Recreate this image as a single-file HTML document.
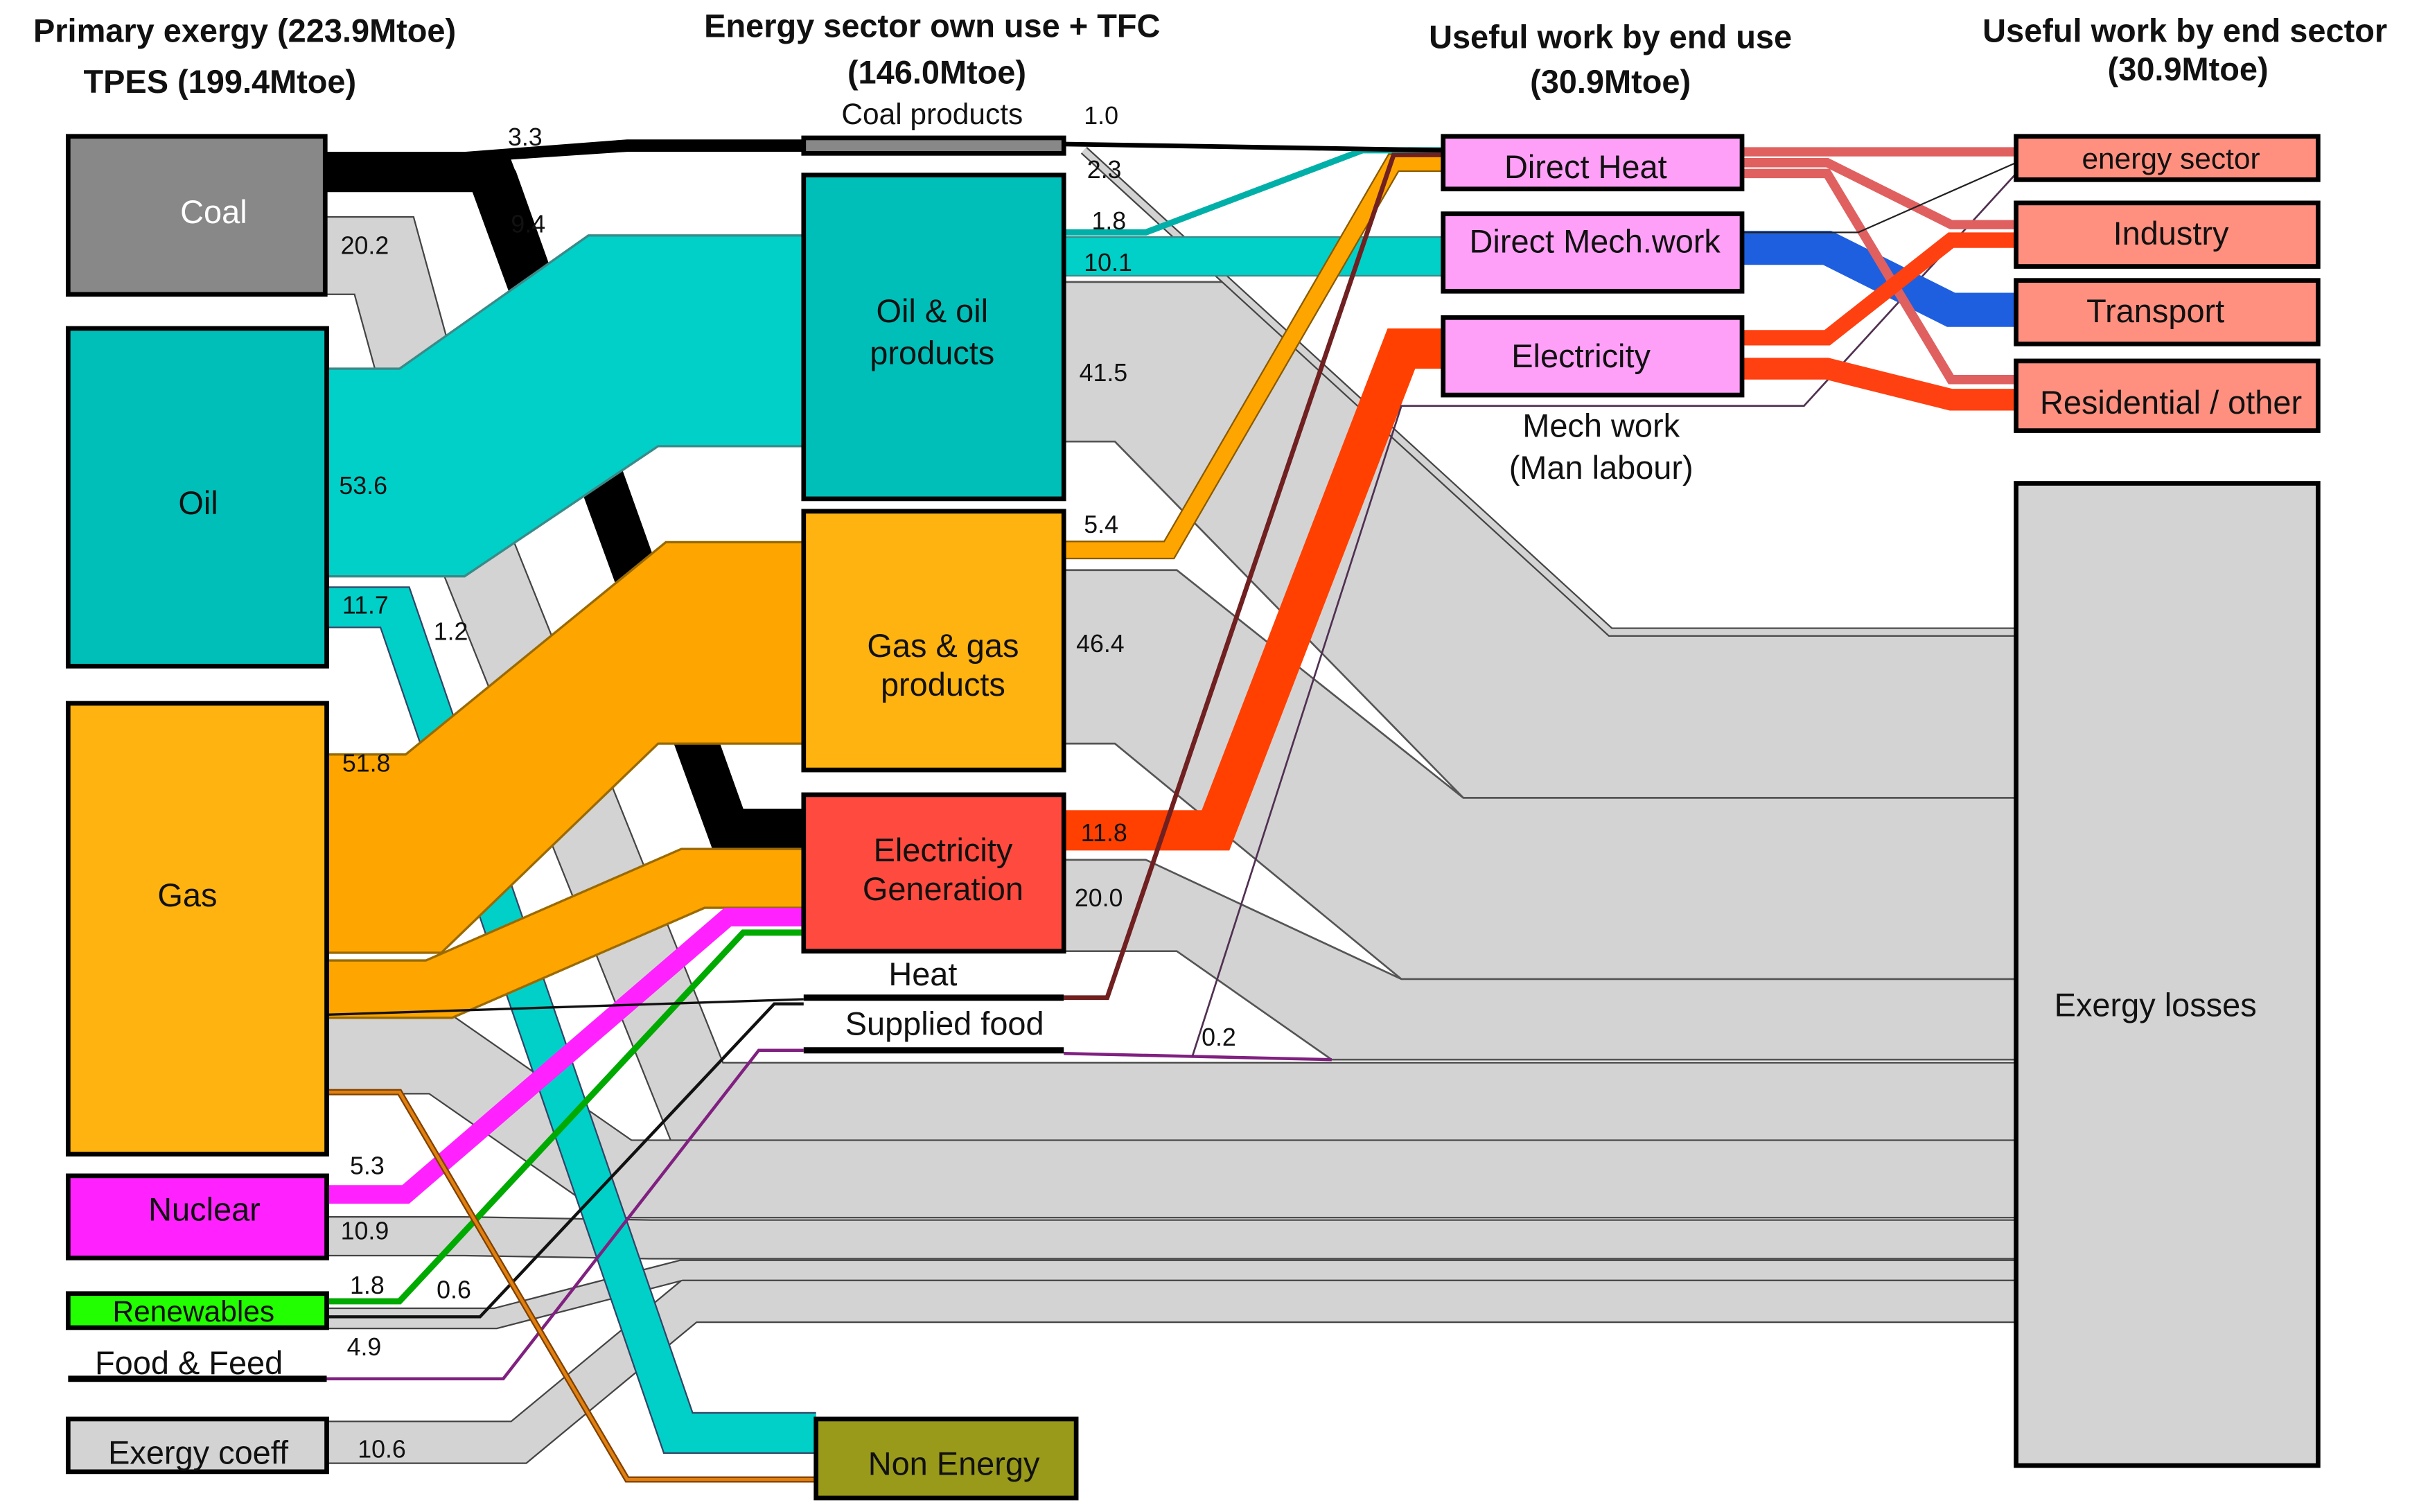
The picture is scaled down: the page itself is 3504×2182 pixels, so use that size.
<!DOCTYPE html>
<html><head><meta charset="utf-8"><style>html,body{margin:0;padding:0;background:#fff}svg{display:block}text{font-family:"Liberation Sans",Arial,sans-serif}</style></head><body>
<svg width="3504" height="2182" viewBox="0 0 1568 976" preserveAspectRatio="none" xmlns="http://www.w3.org/2000/svg">
<g fill="none" stroke-linejoin="miter">
<g stroke="#444">
<polyline points="211,165 248,165 285,300 450,711 1302,711" stroke-width="51"/>
<polyline points="211,681 285,681 400,761 1302,761" stroke-width="51"/>
<polyline points="211,798 300,798 420,800 1302,800" stroke-width="26"/>
<polyline points="211,851 320,851 440,820 1302,820" stroke-width="14"/>
<polyline points="211,931 335,931 445,840 1302,840" stroke-width="28"/>
</g>
<g stroke="#d3d3d3">
<polyline points="211,165 248,165 285,300 450,711 1302,711" stroke-width="49"/>
<polyline points="211,681 285,681 400,761 1302,761" stroke-width="49"/>
<polyline points="211,798 300,798 420,800 1302,800" stroke-width="24"/>
<polyline points="211,851 320,851 440,820 1302,820" stroke-width="12"/>
<polyline points="211,931 335,931 445,840 1302,840" stroke-width="26"/>
</g>
</g>
<g fill="#d3d3d3" stroke="#555" stroke-width="1.2">
<polygon points="687,182 790,182 1040,408 1302,408 1302,515 945,515 720,285 687,285"/>
<polygon points="687,368 760,368 945,515 1302,515 1302,632 905,632 720,480 687,480"/>
<polygon points="687,555 740,555 905,632 1302,632 1302,684 860,684 760,614 687,614"/>
</g>
<g fill="none">
<polyline points="700,97 1040,408 1302,408" stroke="#444" stroke-width="6"/>
<polyline points="700,97 1040,408 1302,408" stroke="#d3d3d3" stroke-width="4"/>
</g>
<!-- coal black -->
<polygon points="211,98 300,98 405,90 519,90 519,98 405,98 330,103 338,124 211,124" fill="#000"/>
<polygon points="300,110 333,110 480,522 519,522 519,548 460,548 300,110" fill="#000"/>
<g fill="none">
<polyline points="211,392 255,392 438,925 527,925" stroke="#346" stroke-width="27"/>
<polyline points="211,392 255,392 438,925 527,925" stroke="#00d0c8" stroke-width="25"/>
</g>
<polygon points="211,238 258,238 380,152 519,152 519,288 425,288 300,372 211,372" fill="#00d0c8" stroke="#3a8a88" stroke-width="1.5"/>
<polygon points="211,487 262,487 430,350 519,350 519,480 425,480 285,615 211,615" fill="#ffa500" stroke="#9a6a00" stroke-width="1.5"/>
<polygon points="211,620 275,620 440,548 519,548 519,586 455,586 292,657 211,657" fill="#ffa500" stroke="#9a6a00" stroke-width="1.5"/>
<g fill="none">
<polyline points="211,771 262,771 470,592 519,592" stroke="#ff22ff" stroke-width="12"/>
<polyline points="211,840 258,840 480,602 519,602" stroke="#0a0" stroke-width="4"/>
<polyline points="211,850 310,850 500,648 519,648" stroke="#111" stroke-width="2"/>
<polyline points="211,890 325,890 490,678 519,678" stroke="#802080" stroke-width="2"/>
<polyline points="687,680 860,684" stroke="#802080" stroke-width="2"/>
<polyline points="211,705 258,705 405,955 527,955" stroke="#804000" stroke-width="4"/>
<polyline points="211,705 258,705 405,955 527,955" stroke="#e08010" stroke-width="2"/>
<polyline points="211,655 519,645" stroke="#111" stroke-width="1.5"/>
<rect x="687" y="153" width="245" height="25" fill="#00d0c8" stroke="#3a8a88"/>
<polyline points="687,150 740,150 880,97 932,97" stroke="#00b0a8" stroke-width="4"/>
<polyline points="687,93 932,97" stroke="#000" stroke-width="3"/>
<polyline points="687,355 755,355 900,105 932,105" stroke="#8a5a00" stroke-width="12"/>
<polyline points="687,355 755,355 900,105 932,105" stroke="#ffa500" stroke-width="10"/>
<polyline points="687,536 785,536 905,225 932,225" stroke="#ff4000" stroke-width="26"/>
<polyline points="687,644 715,644 900,100 932,100" stroke="#702020" stroke-width="3"/>
<polyline points="770,682 905,262 1165,262 1302,112" stroke="#503050" stroke-width="1.2"/>
<polyline points="1125,160 1180,160 1260,200 1302,200" stroke="#1e5fe0" stroke-width="22"/>
<polyline points="1125,98 1302,98" stroke="#e06060" stroke-width="6"/>
<polyline points="1125,105 1180,105 1260,145 1302,145" stroke="#e06060" stroke-width="6"/>
<polyline points="1125,112 1180,112 1260,245 1302,245" stroke="#e06060" stroke-width="6"/>
<polyline points="1125,218 1180,218 1260,155 1302,155" stroke="#ff4010" stroke-width="10"/>
<polyline points="1125,238 1180,238 1260,258 1302,258" stroke="#ff4010" stroke-width="14"/>
<polyline points="1125,150 1200,150 1302,105" stroke="#222" stroke-width="1"/>
</g>
<g stroke="#000" stroke-width="3">
<rect x="44" y="88" width="166" height="102" fill="#888"/>
<rect x="44" y="212" width="167" height="218" fill="#00bfb8"/>
<rect x="44" y="454" width="167" height="291" fill="#ffb310"/>
<rect x="44" y="759" width="167" height="53" fill="#ff22ff"/>
<rect x="44" y="835" width="167" height="22" fill="#22ff00"/>
<rect x="44" y="916" width="167" height="34" fill="#d3d3d3"/>
<rect x="519" y="89" width="168" height="10" fill="#888"/>
<rect x="519" y="113" width="168" height="209" fill="#00bfb8"/>
<rect x="519" y="330" width="168" height="167" fill="#ffb310"/>
<rect x="519" y="513" width="168" height="101" fill="#ff4b3f"/>
<rect x="527" y="916" width="168" height="51" fill="#999a1a"/>
<rect x="932" y="88" width="193" height="34" fill="#ffa0f8"/>
<rect x="932" y="138" width="193" height="50" fill="#ffa0f8"/>
<rect x="932" y="205" width="193" height="50" fill="#ffa0f8"/>
<rect x="1302" y="88" width="195" height="28" fill="#ff9080"/>
<rect x="1302" y="131" width="195" height="41" fill="#ff9080"/>
<rect x="1302" y="181" width="195" height="41" fill="#ff9080"/>
<rect x="1302" y="233" width="195" height="45" fill="#ff9080"/>
<rect x="1302" y="312" width="195" height="634" fill="#d3d3d3"/>
</g>
<g stroke="#000" stroke-width="4">
<line x1="44" y1="890" x2="211" y2="890"/>
<line x1="519" y1="644" x2="687" y2="644"/>
<line x1="519" y1="678" x2="687" y2="678"/>
</g>
<g font-size="21" font-weight="bold" text-anchor="middle" fill="#111">
<text x="158" y="27">Primary exergy (223.9Mtoe)</text>
<text x="142" y="60">TPES (199.4Mtoe)</text>
<text x="602" y="24">Energy sector own use + TFC</text>
<text x="605" y="54">(146.0Mtoe)</text>
<text x="1040" y="31">Useful work by end use</text>
<text x="1040" y="60">(30.9Mtoe)</text>
<text x="1411" y="27">Useful work by end sector</text>
<text x="1413" y="52">(30.9Mtoe)</text>
</g>
<g font-size="21" text-anchor="middle" fill="#111">
<text x="138" y="144" fill="#fff">Coal</text>
<text x="128" y="332">Oil</text>
<text x="121" y="585">Gas</text>
<text x="132" y="788">Nuclear</text>
<text x="125" y="853" font-size="19">Renewables</text>
<text x="122" y="887">Food &amp; Feed</text>
<text x="128" y="945">Exergy coeff</text>
<text x="602" y="80" font-size="19">Coal products</text>
<text x="602" y="208">Oil &amp; oil</text>
<text x="602" y="235">products</text>
<text x="609" y="424">Gas &amp; gas</text>
<text x="609" y="449">products</text>
<text x="609" y="556">Electricity</text>
<text x="609" y="581">Generation</text>
<text x="596" y="636">Heat</text>
<text x="610" y="668">Supplied food</text>
<text x="616" y="952">Non Energy</text>
<text x="1024" y="115">Direct Heat</text>
<text x="1030" y="163">Direct Mech.work</text>
<text x="1021" y="237">Electricity</text>
<text x="1034" y="282">Mech work</text>
<text x="1034" y="309">(Man labour)</text>
<text x="1402" y="109" font-size="19">energy sector</text>
<text x="1402" y="158">Industry</text>
<text x="1392" y="208">Transport</text>
<text x="1402" y="267">Residential / other</text>
<text x="1392" y="656">Exergy losses</text>
</g>
<g font-size="16" fill="#111">
<text x="328" y="94">3.3</text>
<text x="220" y="164">20.2</text>
<text x="330" y="150">9.4</text>
<text x="219" y="319">53.6</text>
<text x="221" y="396">11.7</text>
<text x="280" y="413">1.2</text>
<text x="221" y="498">51.8</text>
<text x="226" y="758">5.3</text>
<text x="220" y="800">10.9</text>
<text x="226" y="835">1.8</text>
<text x="282" y="838">0.6</text>
<text x="224" y="875">4.9</text>
<text x="231" y="941">10.6</text>
<text x="700" y="80">1.0</text>
<text x="702" y="115">2.3</text>
<text x="705" y="148">1.8</text>
<text x="700" y="175">10.1</text>
<text x="697" y="246">41.5</text>
<text x="700" y="344">5.4</text>
<text x="695" y="421">46.4</text>
<text x="698" y="543">11.8</text>
<text x="694" y="585">20.0</text>
<text x="776" y="675">0.2</text>
</g>
</svg>
</body></html>
